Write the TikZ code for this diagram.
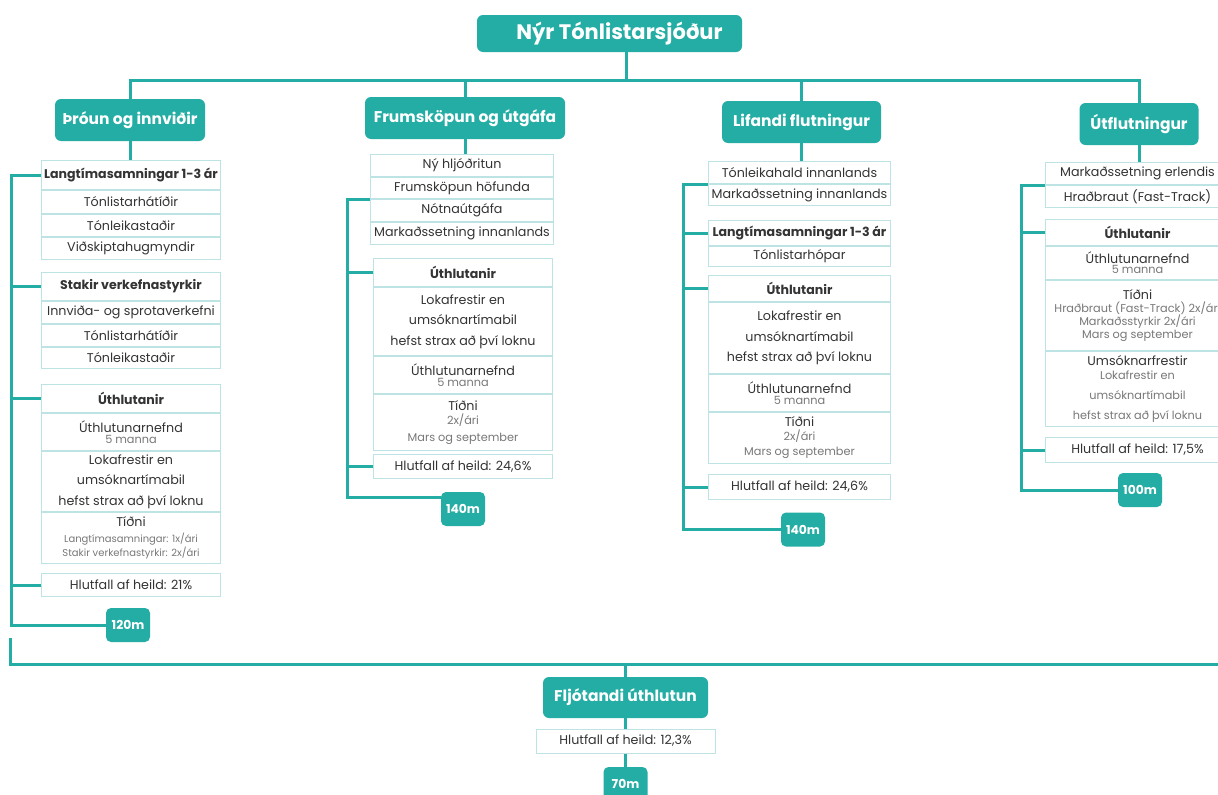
\documentclass[tikz,border=0pt]{standalone}
\usepackage{fontspec}
\setmainfont{Poppins}
\usetikzlibrary{calc}
\definecolor{fundteal}{RGB}{36,173,164}
\definecolor{rimline}{RGB}{190,227,228}
\definecolor{inktext}{RGB}{52,52,52}
\definecolor{softtext}{RGB}{120,120,120}
\newcommand\minor[1]{{\color{softtext}\fontsize{11.3}{12}\selectfont #1}}
\newcommand\wee[1]{{\color{softtext}\fontsize{10}{11}\selectfont #1}}
\tikzset{link/.style={fundteal, line width=3pt},
  headbox/.style={fill=fundteal, rounded corners=6pt, text=white, inner sep=0pt, minimum height=42pt, font=\bfseries\fontsize{15.5}{18}\selectfont},
  badge/.style={fill=fundteal, rounded corners=5pt, text=white, inner sep=0pt, minimum width=44pt, minimum height=34pt, font=\bfseries\fontsize{12.3}{14}\selectfont},
  cell/.style={draw=rimline, line width=1pt, fill=white, text=inktext, inner sep=0pt, align=center, anchor=north west, font=\fontsize{12.7}{15}\selectfont},
  cellhead/.style={cell, font=\bfseries\fontsize{12.6}{15}\selectfont},
  lines/.style={font=\fontsize{12.7}{20.5}\selectfont}}

\begin{document}
\begin{tikzpicture}[x=1pt,y=-1pt]
  \useasboundingbox[fill=white] (0,0) rectangle (1218,795);
  \node[headbox, minimum width=265pt, minimum height=37pt, font=\bfseries\fontsize{21}{24}\selectfont] (top) at (609.5,33.5) {\hspace*{20pt}Nýr Tónlistarsjóður};
  \coordinate (bus) at (626,80);
  \node[headbox, minimum width=150pt] (h1) at (130,120) {Þróun og innviðir};
  \node[headbox, minimum width=200pt] (h2) at (465,118) {Frumsköpun og útgáfa};
  \node[headbox, minimum width=159pt] (h3) at (801.5,122) {Lifandi flutningur};
  \node[headbox, minimum width=119pt] (h4) at (1139,124) {Útflutningur};
  \draw[link] (bus |- top.south) -- (bus);
  \draw[link] (h1.north) |- (bus) -| (h4.north);
  \draw[link] (h2.north) -- (h2.north |- bus);
  \draw[link] (h3.north) -- (h3.north |- bus);

  \begin{scope}[cell/.append style={minimum width=179pt}]
    \node[cellhead, minimum height=29pt] (a1) at (41,160) {Langtímasamningar 1-3 ár};
    \node[cell, minimum height=23pt] (a2) at (a1.south west) {Tónlistarhátíðir};
    \node[cell, minimum height=22pt] (a3) at (a2.south west) {Tónleikastaðir};
    \node[cell, minimum height=22pt] (a4) at (a3.south west) {Viðskiptahugmyndir};
    \node[cellhead, minimum height=28pt] (b1) at (41,272) {Stakir verkefnastyrkir};
    \node[cell, minimum height=22pt] (b2) at (b1.south west) {Innviða- og sprotaverkefni};
    \node[cell, minimum height=22pt] (b3) at (b2.south west) {Tónlistarhátíðir};
    \node[cell, minimum height=21pt] (b4) at (b3.south west) {Tónleikastaðir};
    \node[cellhead, minimum height=28pt] (c1) at (41,384) {Úthlutanir};
    \node[cell, minimum height=37pt] (c2) at (c1.south west) {Úthlutunarnefnd\\[-4pt]\minor{5 manna}};
    \node[cell, minimum height=60pt, lines] (c3) at (c2.south west) {Lokafrestir en\\umsóknartímabil\\hefst strax að því loknu};
    \node[cell, minimum height=51pt] (c4) at (c3.south west) {Tíðni\\[1pt]\wee{Langtímasamningar: 1x/ári}\\[-1pt]\wee{Stakir verkefnastyrkir: 2x/ári}};
    \node[cell, minimum height=23pt] (d1) at (41,573) {Hlutfall af heild: 21\%};
  \end{scope}
  \node[badge] (k1) at (128,625) {120m};
  \coordinate (s1) at (11,0);
  \draw[link] (h1.south) -- (h1.south |- a1.north);
  \draw[link] (a1.west) -- (a1.west -| s1) |- (k1.west);
  \foreach \n in {b1,c1,d1} \draw[link] (\n.west) -- (\n.west -| s1);

  \begin{scope}[cell/.append style={minimum width=183pt}]
    \node[cell, minimum height=22pt] (e1) at (370,154) {Ný hljóðritun};
    \node[cell, minimum height=21pt] (e2) at (e1.south west) {Frumsköpun höfunda};
    \node[cell, minimum height=22pt] (e3) at (e2.south west) {Nótnaútgáfa};
    \node[cell, minimum height=22pt] (e4) at (e3.south west) {Markaðssetning innanlands};
  \end{scope}
  \begin{scope}[cell/.append style={minimum width=179pt}]
    \node[cellhead, minimum height=28pt] (g1) at (373,258) {Úthlutanir};
    \node[cell, minimum height=68pt, lines] (g2) at (g1.south west) {Lokafrestir en\\umsóknartímabil\\hefst strax að því loknu};
    \node[cell, minimum height=37pt] (g3) at (g2.south west) {Úthlutunarnefnd\\[-4pt]\minor{5 manna}};
    \node[cell, minimum height=56pt] (g4) at (g3.south west) {Tíðni\\[-1pt]\minor{2x/ári}\\[2pt]\minor{Mars og september}};
    \node[cell, minimum height=24pt] (i2) at (373,454) {Hlutfall af heild: 24,6\%};
  \end{scope}
  \node[badge] (k2) at (463,509) {140m};
  \coordinate (s2) at (347,0);
  \draw[link] (h2.south) -- (h2.south |- e1.north);
  \draw[link] (e2.south west) -- (e2.south west -| s2) |- ($(k2.west)+(0,-12)$);
  \foreach \n in {g1,i2} \draw[link] (\n.west) -- (\n.west -| s2);

  \begin{scope}[cell/.append style={minimum width=182pt}]
    \node[cell, minimum height=22pt] (m1) at (708,161) {Tónleikahald innanlands};
    \node[cell, minimum height=21pt] (m2) at (m1.south west) {Markaðssetning innanlands};
    \node[cellhead, minimum height=25pt] (n1) at (708,220) {Langtímasamningar 1-3 ár};
    \node[cell, minimum height=20pt] (n2) at (n1.south west) {Tónlistarhópar};
    \node[cellhead, minimum height=26pt] (o1) at (708,275) {Úthlutanir};
    \node[cell, minimum height=71pt, lines] (o2) at (o1.south west) {Lokafrestir en\\umsóknartímabil\\hefst strax að því loknu};
    \node[cell, minimum height=37pt] (o3) at (o2.south west) {Úthlutunarnefnd\\[-4pt]\minor{5 manna}};
    \node[cell, minimum height=51pt] (o4) at (o3.south west) {Tíðni\\[-1pt]\minor{2x/ári}\\[0pt]\minor{Mars og september}};
    \node[cell, minimum height=25pt] (q3) at (708,474) {Hlutfall af heild: 24,6\%};
  \end{scope}
  \node[badge] (k3) at (803,529.5) {140m};
  \coordinate (s3) at (683,0);
  \draw[link] (h3.south) -- (h3.south |- m1.north);
  \draw[link] (m1.south west) -- (m1.south west -| s3) |- (k3.west);
  \foreach \n in {n1,o1,q3} \draw[link] (\n.west) -- (\n.west -| s3);

  \begin{scope}[cell/.append style={minimum width=184pt}]
    \node[cell, minimum height=22pt] (u1) at (1045,162) {Markaðssetning erlendis};
    \node[cell, minimum height=22pt] (u2) at (u1.south west) {Hraðbraut (Fast-Track)};
    \node[cellhead, minimum height=26pt] (v1) at (1045,219) {Úthlutanir};
    \node[cell, minimum height=33pt] (v2) at (v1.south west) {Úthlutunarnefnd\\[-5pt]\minor{5 manna}};
    \node[cell, minimum height=70pt] (v3) at (v2.south west) {Tíðni\\[-2pt]\minor{Hraðbraut (Fast-Track) 2x/ári}\\[-1.5pt]\minor{Markaðsstyrkir 2x/ári}\\[-2.5pt]\minor{Mars og september}};
    \node[cell, minimum height=75pt] (v4) at (v3.south west) {Umsóknarfrestir\\[-1pt]\minor{Lokafrestir en}\\[5pt]\minor{umsóknartímabil}\\[5pt]\minor{hefst strax að því loknu}};
    \node[cell, minimum height=25pt] (w4) at (1045,437) {Hlutfall af heild: 17,5\%};
  \end{scope}
  \node[badge] (k4) at (1140,490) {100m};
  \coordinate (s4) at (1021,0);
  \draw[link] (h4.south) -- (h4.south |- u1.north);
  \draw[link] (u1.south west) -- (u1.south west -| s4) |- (k4.west);
  \foreach \n in {v1,w4} \draw[link] (\n.west) -- (\n.west -| s4);

  \coordinate (lowA) at (10,638);
  \coordinate (lowB) at (1230,664);
  \draw[link] (lowA) |- (lowB);
  \node[headbox, minimum width=165pt, minimum height=41pt] (f) at (625.5,697.5) {Fljótandi úthlutun};
  \node[cell, anchor=center, minimum width=179pt, minimum height=24pt] (f2) at (625.5,741) {Hlutfall af heild: 12,3\%};
  \node[badge] (k5) at (625.5,784) {70m};
  \draw[link] (f.north) -- (f.north |- lowB);
  \draw[link] (f.south) -- (f2.north);
  \draw[link] (f2.south) -- (k5.north);
\end{tikzpicture}
\end{document}
